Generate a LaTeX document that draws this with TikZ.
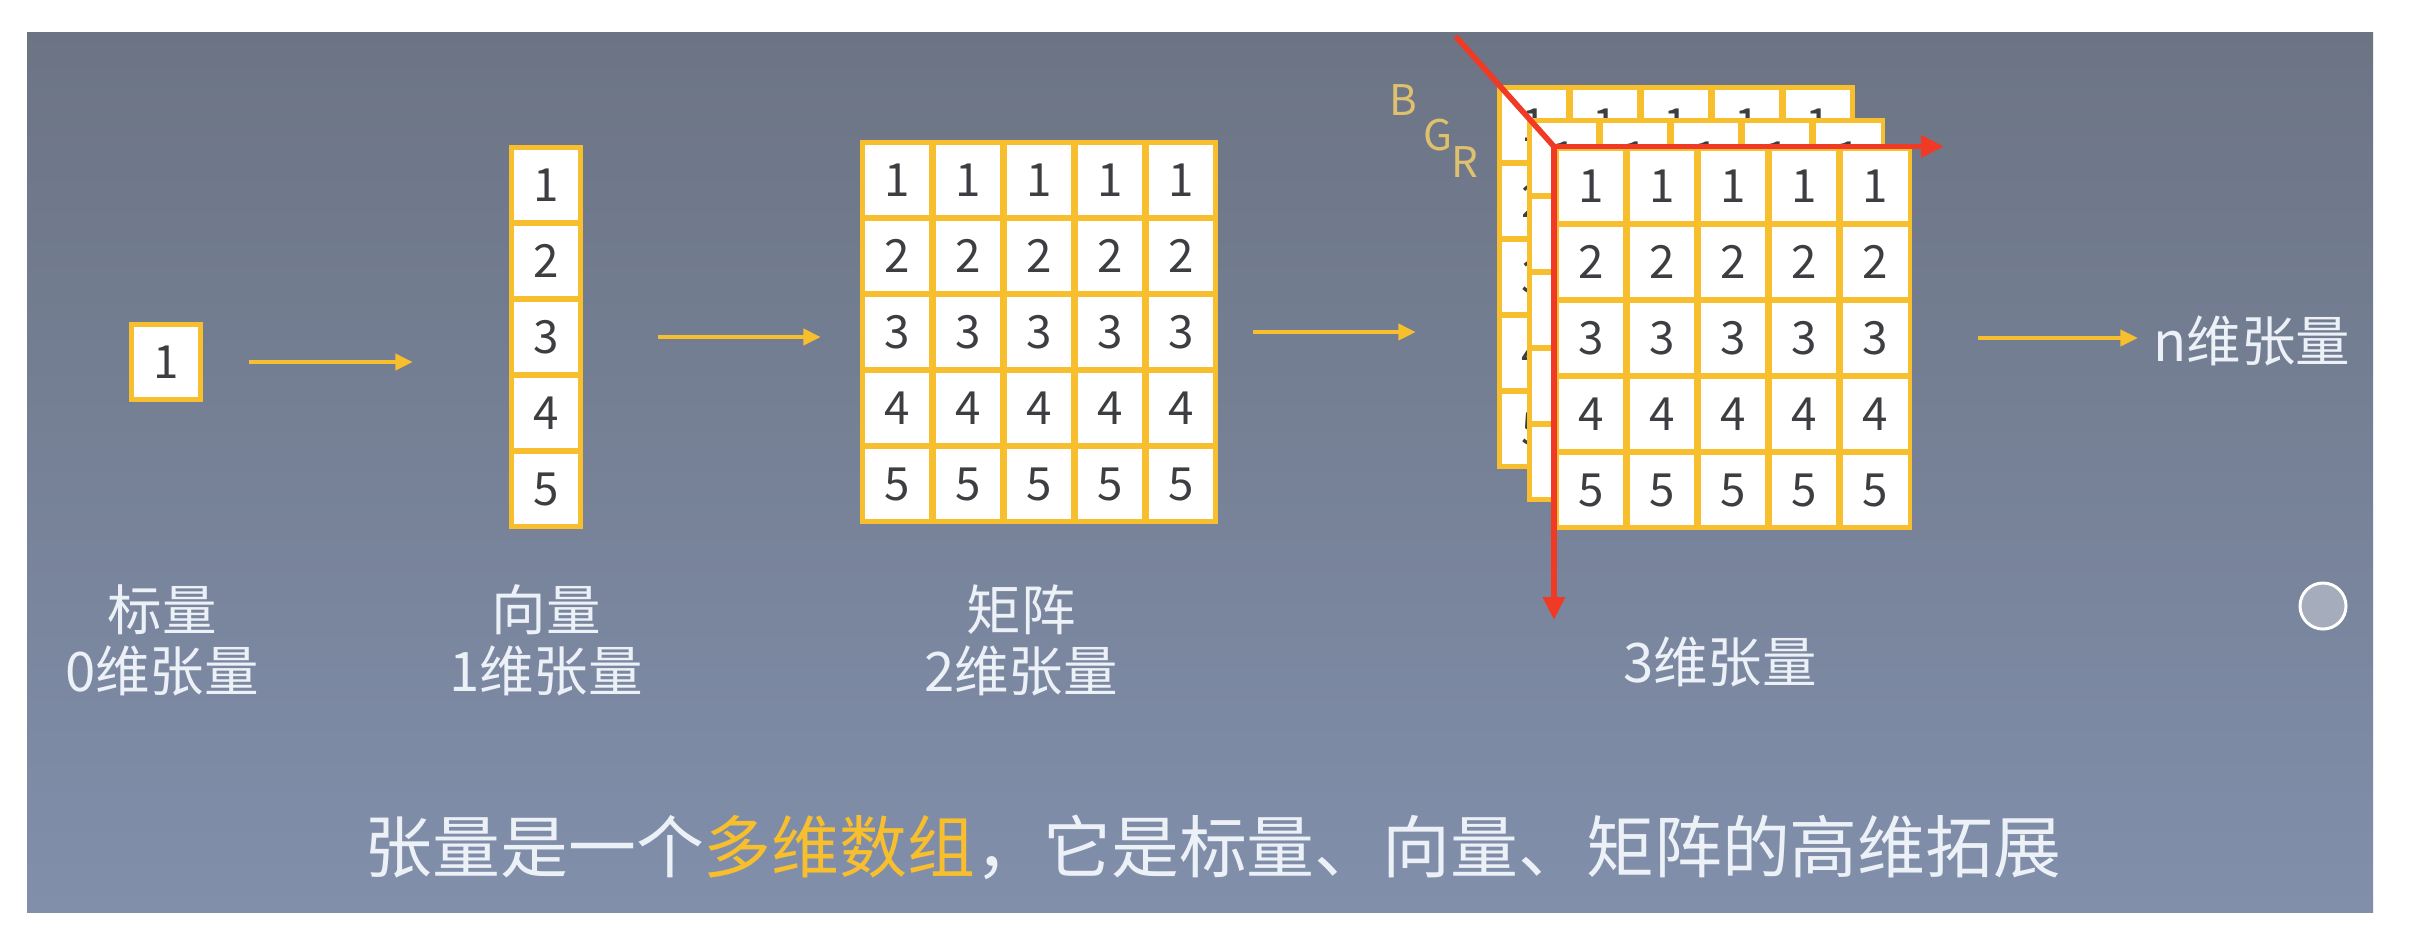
\documentclass[tikz,border=0pt]{standalone}
\usepackage{fontspec}
\setmainfont{Noto Sans CJK SC}
\usetikzlibrary{arrows.meta}
\definecolor{bgtop}{RGB}{108,116,132}
\definecolor{bgbot}{RGB}{129,143,171}
\definecolor{cellyellow}{RGB}{247,190,45}
\definecolor{digitgray}{RGB}{60,62,66}
\definecolor{axisred}{RGB}{240,58,38}
\definecolor{chanyellow}{RGB}{222,192,110}
\definecolor{captionwhite}{RGB}{236,240,247}
\definecolor{dotgray}{RGB}{165,172,188}
\tikzset{
    cell/.style={draw=cellyellow, fill=white, line width=1.3pt,
    	minimum width=0.695cm, minimum height=0.745cm, inner sep=0pt,
    	text=digitgray, font=\fontsize{13}{13}\selectfont}
}
\tikzset{
    flow/.style={draw=cellyellow, line width=1.4pt,
    	-{Triangle[length=5pt,width=4.5pt]}}
}
\tikzset{
    rgbaxis/.style={draw=axisred, line width=1.6pt,
    	-{Triangle[length=6.5pt,width=6pt]}}
}
\tikzset{
    dimlabel/.style={text=captionwhite, align=center, inner sep=0pt,
    	font=\fontsize{15.5}{17.4}\selectfont},
    chan/.style={text=chanyellow, inner sep=0pt, font=\fontsize{12}{12}\selectfont}
}

\begin{document}
\begin{tikzpicture}[x=0.01cm,y=-0.01cm]
	\useasboundingbox (0,0) rectangle (2426,944);
	\fill[white] (0,0) rectangle (2426,944);
	\shade[top color=bgtop, bottom color=bgbot] (27,32) rectangle (2373,912);

	% scalar, vector, matrix
	\node[cell] (s) at (166,362) {1};
	\foreach \i in {1,...,5}
		\node[cell] (v\i) at (546,{185+76*(\i-1)}) {\i};
	\foreach \i in {1,...,5}
		\foreach \j in {1,...,5}
			\node[cell] (m\i\j) at ({897+71*(\j-1)},{180+76*(\i-1)}) {\i};

	% B and G channels behind, only first row / column shows
	\foreach \l/\x/\y in {b/1534/125, g/1564/158}
		\foreach \i in {1,...,5}
			\foreach \j in {1,...,5}
				\node[cell] (\l\i\j) at ({\x+71*(\j-1)},{\y+76*(\i-1)})
					{\ifnum\i=1 \i\else\ifnum\j=1 \i\fi\fi};
	\foreach \i in {1,...,5}
		\foreach \j in {1,...,5}
			\node[cell] (r\i\j) at ({1591+71*(\j-1)},{186+76*(\i-1)}) {\i};

	\node[chan] (chB) at (1403,100) {B};
	\node[chan] (chG) at (1438,135) {G};
	\node[chan] (chR) at (1465,162) {R};

	\coordinate (corner) at (r11.north west);
	\coordinate (xend) at (1944,148);
	\coordinate (yend) at (1555,620);
	\coordinate (zend) at (1457,38);
	\draw[rgbaxis] (corner) -- (corner -| xend);
	\draw[rgbaxis] (corner) -- (corner |- yend);
	\draw[draw=axisred, line width=1.6pt, line cap=round] (corner) -- (zend);

	\node[dimlabel, anchor=west] (nlabel) at (2153,341) {n维张量};

	\draw[flow, shorten <=0.46cm, shorten >=0.96cm] (s.east) -- (s.east -| v3.west);
	\draw[flow, shorten <=0.75cm, shorten >=0.39cm] (v3.east) -- (v3.east -| m31.west);
	\draw[flow, shorten <=0.35cm, shorten >=0.81cm] (m35.east) -- (m35.east -| b31.west);
	\draw[flow, shorten <=0.66cm, shorten >=0.15cm] (r35.east) -- (r35.east -| nlabel.west);

	\node[dimlabel] (scalarlbl) at (162,640) {标量\\0维张量};
	\node[dimlabel] (vectorlbl) at (546,640) {向量\\1维张量};
	\node[dimlabel] (matrixlbl) at (1021,640) {矩阵\\2维张量};
	\node[dimlabel] (tensorlbl) at (1720,662) {3维张量};

	\node[text=captionwhite, inner sep=0pt, font=\fontsize{19.3}{19.3}\selectfont] (summary)
		at (1213,847) {张量是一个\textcolor{cellyellow}{多维数组}，它是标量、向量、矩阵的高维拓展};

	\node[circle, draw=white, fill=dotgray, line width=0.85pt, minimum size=0.46cm,
		inner sep=0pt] (dot) at (2323,606) {};
\end{tikzpicture}
\end{document}
